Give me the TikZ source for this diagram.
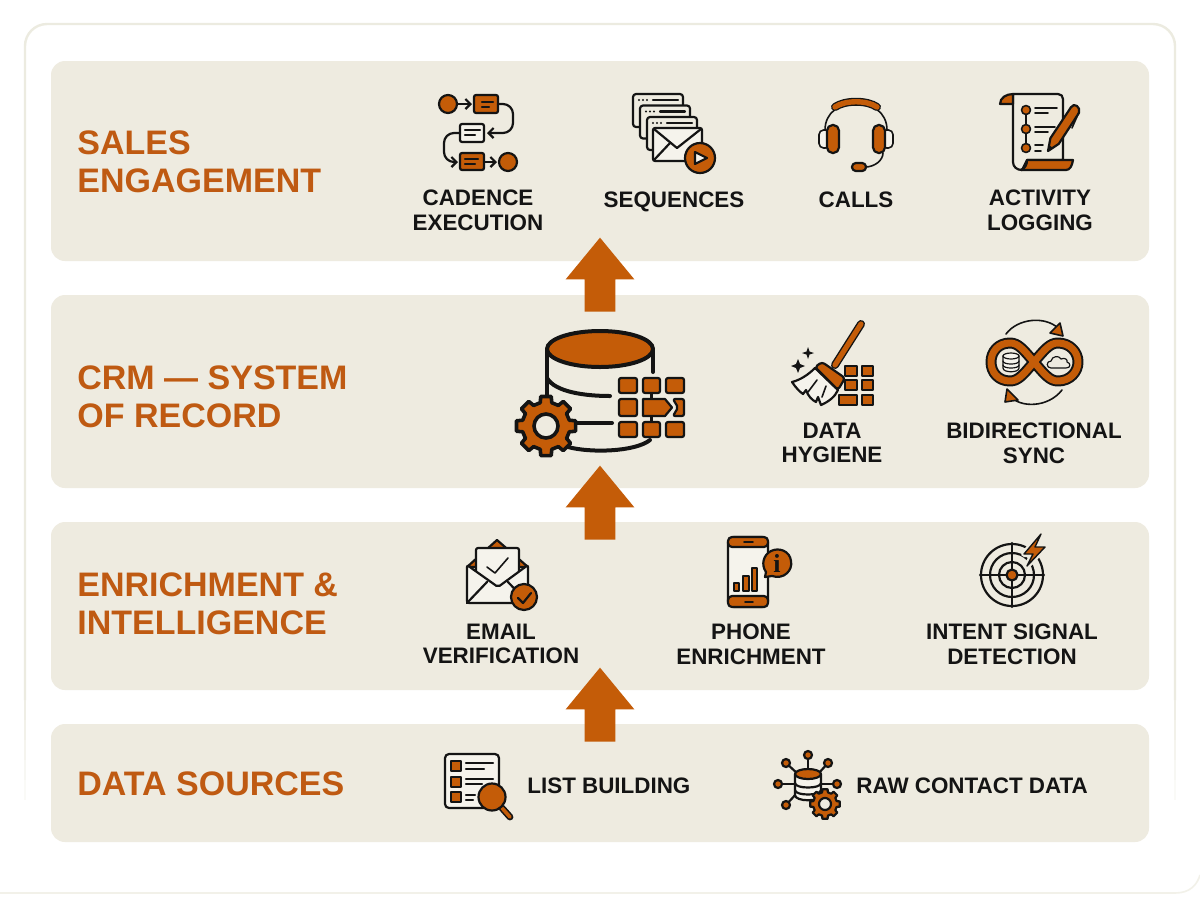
\documentclass[tikz,border=0pt]{standalone}
\usepackage{fontspec}
\setmainfont{Liberation Sans}
\newfontfamily\glyphfont{Liberation Serif}
\usetikzlibrary{arrows.meta,shapes.arrows}
\definecolor{brand}{HTML}{C45C08}
\definecolor{titleink}{HTML}{BF5A12}
\definecolor{ink}{HTML}{141414}
\definecolor{panelfill}{HTML}{EEEBE0}
\definecolor{paperfill}{HTML}{F5F3EC}
\definecolor{framecol}{HTML}{ECEBE0}
\tikzset{
  panelbox/.style={fill=panelfill,rounded corners=7pt,inner sep=0pt,minimum width=549pt},
  bigarrow/.style={single arrow,fill=brand,inner sep=0pt,rotate=90,minimum height=37pt,minimum width=34pt,
    text height=15pt,text depth=0pt,single arrow head extend=9.5pt,single arrow tip angle=79},
  titlelabel/.style={font=\fontsize{17}{19}\selectfont\bfseries,text=titleink,align=left,anchor=west,inner sep=0pt},
  iconlabel/.style={font=\fontsize{11.2}{12.3}\selectfont\bfseries,text=ink,align=center,inner sep=0pt},
  iconline/.style={draw=ink,line width=1.1pt,line join=round,line cap=round},
  thinline/.style={draw=ink,line width=0.8pt,line join=round,line cap=round},
  gearline/.style={iconline},
  gearicon/.pic={
    \draw[gearline,fill=brand] (-14:24) \foreach \a in {0,45,...,315}{ -- (\a-14:24) -- (\a-10:30) -- (\a+10:30) -- (\a+14:24)} -- cycle;
    \draw[gearline,fill=panelfill] (0,0) circle (12);
  },
  >={Straight Barb[length=2.5pt,width=5pt]}
}
\begin{document}
\begin{tikzpicture}[x=0.5pt,y=-0.5pt]
  \useasboundingbox (0,0) rectangle (1200,896);
  \fill[white] (0,0) rectangle (1200,896);
  \draw[framecol,line width=1.2pt,rounded corners=11pt] (25,700) -- (25,24) -- (1175,24) -- (1175,700);
  \foreach \ya/\yb/\fade in {700/720/85,720/740/70,740/760/55,760/780/40,780/800/25}{
    \draw[framecol!\fade!white,line width=1.2pt] (25,\ya) -- (25,\yb) (1175,\ya) -- (1175,\yb);
  }
  \draw[framecol!70!white,line width=0.8pt] (0,893) -- (1175,893) .. controls (1190,893) and (1197,885) .. (1200,875);

  \node[panelbox,minimum height=100pt] (engagepanel) at (600,161) {};
  \node[panelbox,minimum height=96.5pt] (crmpanel) at (600,391.5) {};
  \node[panelbox,minimum height=84pt] (enrichpanel) at (600,606) {};
  \node[panelbox,minimum height=59pt] (sourcepanel) at (600,783) {};

  \node[bigarrow] (crmarrow) at (600,284) {};
  \node[bigarrow] (enricharrow) at (600,512) {};
  \node[bigarrow] (sourcearrow) at (600,714) {};

  \node[titlelabel] (engagetitle) at (77,162) {SALES\\ENGAGEMENT};
  \node[titlelabel] (crmtitle) at (77,397) {CRM — SYSTEM\\OF RECORD};
  \node[titlelabel] (enrichtitle) at (77,604) {ENRICHMENT \&\\INTELLIGENCE};
  \node[titlelabel] (sourcetitle) at (77,784) {DATA SOURCES};

  \node[iconlabel] (cadencelabel) at (478,210) {CADENCE\\EXECUTION};
  \node[iconlabel] (sequencelabel) at (674,201.5) {SEQUENCES};
  \node[iconlabel] (callslabel) at (856,200) {CALLS};
  \node[iconlabel] (activitylabel) at (1040,210) {ACTIVITY\\LOGGING};
  \node[iconlabel] (hygienelabel) at (832,443) {DATA\\HYGIENE};
  \node[iconlabel] (synclabel) at (1034,443) {BIDIRECTIONAL\\SYNC};
  \node[iconlabel] (emaillabel) at (501,644) {EMAIL\\VERIFICATION};
  \node[iconlabel] (phonelabel) at (751,644) {PHONE\\ENRICHMENT};
  \node[iconlabel] (intentlabel) at (1012,644) {INTENT SIGNAL\\DETECTION};
  \node[iconlabel,anchor=west] (listlabel) at (527,786) {LIST BUILDING};
  \node[iconlabel,anchor=west] (rawlabel) at (856,786) {RAW CONTACT DATA};

  \draw[iconline,fill=brand] (448,104) circle (9);
  \draw[iconline,->] (458,104) -- (472,104);
  \draw[iconline,fill=brand,rounded corners=1pt] (474,95) rectangle (498,113);
  \draw[iconline] (482,102) -- (493,102) (482,107) -- (489,107);
  \draw[iconline,->,rounded corners=5pt] (498,104) -- (513,104) -- (513,133) -- (487,133);
  \draw[iconline,fill=paperfill,rounded corners=1pt] (460,124) rectangle (484,142);
  \draw[iconline] (465,130) -- (480,130) (465,135) -- (475,135);
  \draw[iconline,->,rounded corners=5pt] (460,133) -- (444,133) -- (444,162) -- (458,162);
  \draw[iconline,fill=brand,rounded corners=1pt] (460,153) rectangle (484,170);
  \draw[iconline] (465,159) -- (478,159) (465,164) -- (475,164);
  \draw[iconline,->] (484,162) -- (497,162);
  \draw[iconline,fill=brand] (508,162) circle (9);

  \foreach \dx/\dy in {0/0,7/11.5,14/23}{
    \draw[iconline,fill=panelfill,rounded corners=1.5pt] (633+\dx,94+\dy) rectangle (683+\dx,127+\dy);
    \draw[iconline] (653+\dx,100+\dy) -- (678+\dx,100+\dy);
    \fill[ink] (639+\dx,100+\dy) circle (1.2) (643+\dx,100+\dy) circle (1.2) (647+\dx,100+\dy) circle (1.2);
  }
  \draw[iconline,fill=paperfill,rounded corners=1pt] (653,128) rectangle (702,161);
  \draw[iconline] (654,129) -- (677,148) -- (701,129) (654,160) -- (670,143);
  \draw[iconline,fill=brand] (700,158) circle (15);
  \draw[iconline,fill=paperfill] (695,152) -- (695,164) -- (707,158) -- cycle;

  \draw[thinline] (825,130) .. controls (825,94) and (887,94) .. (887,130);
  \draw[ink,line width=4pt,line cap=round] (835,107) .. controls (845,100) and (867,100) .. (877,107);
  \draw[brand,line width=2.7pt,line cap=round] (835,107) .. controls (845,100) and (867,100) .. (877,107);
  \draw[thinline,fill=paperfill,rounded corners=2.3pt] (819,130) rectangle (830,148);
  \draw[thinline,fill=paperfill,rounded corners=2.3pt] (882,130) rectangle (893,148);
  \draw[iconline,fill=brand,rounded corners=2.8pt] (827,125) rectangle (839,153);
  \draw[iconline,fill=brand,rounded corners=2.8pt] (873,125) rectangle (885,153);
  \draw[thinline] (883,153) .. controls (883,160) and (875,167) .. (865,167);
  \draw[iconline,fill=brand,rounded corners=1.9pt] (852,163) rectangle (866,171);

  \draw[iconline,fill=panelfill] (1013,94) -- (1058,94) .. controls (1061,94) and (1063,96) .. (1063,99) -- (1063,160) -- (1027,160) -- (1022,170) .. controls (1017,170) and (1013,167) .. (1013,162) -- cycle;
  \draw[iconline,fill=brand] (1013,94) .. controls (1006,94) and (1000,98) .. (1000,104) -- (1013,104) -- cycle;
  \draw[iconline,fill=brand] (1027,160) -- (1073,160) .. controls (1072,166) and (1070,170) .. (1066,170) -- (1021,170) .. controls (1025,168) and (1027,165) .. (1027,160) -- cycle;
  \draw[thinline] (1026,110) -- (1026,148);
  \foreach \yy in {110,129,148}{
    \draw[thinline,fill=brand] (1026,\yy) circle (4.5);
  }
  \draw[thinline] (1035,108) -- (1057,108) (1035,113) -- (1048,113) (1035,127) -- (1055,127) (1035,132) -- (1048,132) (1035,145) -- (1043,145) (1035,151) -- (1041,151);
  \draw[iconline,fill=brand] (1048,151) -- (1050.4,138.2) -- (1071,107.2) .. controls (1074,102) and (1081,107) .. (1079,112.8) -- (1058.8,143.8) -- cycle;
  \fill[ink] (1048,151) -- (1049,145) -- (1053,148) -- cycle;
  \draw[thinline] (1079,112) -- (1072,128);

  \draw[iconline,line width=2pt] (547,349) -- (547,400) (653,349) -- (653,372);
  \draw[iconline,line width=2pt,fill=brand] (600,349) circle [x radius=53,y radius=18];
  \draw[iconline,line width=2pt] (547,378) .. controls (555,392) and (585,396) .. (610,396);
  \draw[iconline,line width=2pt] (575,423) -- (612,423);
  \draw[iconline,line width=2pt] (568,447) .. controls (590,453) and (635,452) .. (650,440);
  \pic[gearline/.style={iconline,line width=1.8pt}] at (546,426) {gearicon};
  \draw[iconline] (651.5,393) -- (651.5,399) (651.5,416) -- (651.5,422);
  \foreach \xa/\xb in {619/637,643/660,666/684}{
    \foreach \ya/\yb in {378/393,422/437}{
      \draw[iconline,fill=brand,rounded corners=1pt] (\xa,\ya) rectangle (\xb,\yb);
    }
  }
  \draw[iconline,fill=brand,rounded corners=1pt] (619,399) rectangle (637,416);
  \draw[iconline,fill=brand,rounded corners=1pt] (673,399) -- (684,399) -- (684,416) -- (673,416) -- (678,407.5) -- cycle;
  \draw[iconline,fill=brand] (643,399) -- (665,399) -- (672,407.5) -- (665,416) -- (643,416) -- cycle;

  \foreach \xa/\xb/\ya/\yb in {845/857/366/376,862/873/366/376,845/857/380/390,862/873/380/390,839/857/395/405,862/873/395/405}{
    \draw[thinline,fill=brand] (\xa,\ya) rectangle (\xb,\yb);
  }
  \draw[ink,line width=4pt,line cap=round] (861,324) -- (835,365);
  \draw[brand,line width=2.6pt,line cap=round] (861,324) -- (835,365);
  \draw[panelfill,line width=3pt,line join=round,fill=panelfill] (815,368) -- (792,382) -- (820,405) -- (838,390) -- cycle;
  \draw[iconline,fill=paperfill] (815,368) .. controls (808,375) and (800,380) .. (792,382) .. controls (796,388) and (800,392) .. (803,394) -- (806,390) .. controls (808,396) and (812,400) .. (816,402) -- (818,397) -- (821,405) .. controls (828,402) and (835,397) .. (838,390) -- cycle;
  \draw[thinline] (817,380) -- (808,392) (826,386) -- (822,397);
  \draw[iconline,fill=brand,rounded corners=1.5pt] (815,367) -- (822,362) -- (845,378) -- (838,390) -- cycle;
  \fill[ink] (798,359) -- (800,364) -- (805,366) -- (800,368) -- (798,373) -- (796,368) -- (791,366) -- (796,364) -- cycle;
  \fill[ink] (808,347) -- (809.5,351.5) -- (814,353) -- (809.5,354.5) -- (808,359) -- (806.5,354.5) -- (802,353) -- (806.5,351.5) -- cycle;

  \draw[ink,line width=5.5pt,line join=round] (1034,362) .. controls (1045,349) and (1050,343) .. (1058,343) .. controls (1070,343) and (1078,352) .. (1078,362) .. controls (1078,372) and (1070,381) .. (1058,381) .. controls (1050,381) and (1045,375) .. (1034,362) .. controls (1023,349) and (1018,343) .. (1010,343) .. controls (998,343) and (991,352) .. (991,362) .. controls (991,372) and (998,381) .. (1010,381) .. controls (1018,381) and (1023,375) .. (1034,362) -- cycle;
  \draw[brand,line width=3.5pt,line join=round] (1034,362) .. controls (1045,349) and (1050,343) .. (1058,343) .. controls (1070,343) and (1078,352) .. (1078,362) .. controls (1078,372) and (1070,381) .. (1058,381) .. controls (1050,381) and (1045,375) .. (1034,362) .. controls (1023,349) and (1018,343) .. (1010,343) .. controls (998,343) and (991,352) .. (991,362) .. controls (991,372) and (998,381) .. (1010,381) .. controls (1018,381) and (1023,375) .. (1034,362) -- cycle;
  \draw[thinline,line width=0.6pt,fill=paperfill] (1003,356) -- (1003,368) .. controls (1003,373) and (1019,373) .. (1019,368) -- (1019,356) -- cycle;
  \draw[thinline,line width=0.6pt,fill=paperfill] (1011,356) circle [x radius=8,y radius=3];
  \draw[thinline,line width=0.6pt] (1003,361) .. controls (1003,365) and (1019,365) .. (1019,361) (1003,365) .. controls (1003,369) and (1019,369) .. (1019,365);
  \draw[thinline,line width=0.6pt] (1051,368) .. controls (1046,368) and (1046,361) .. (1051,361) .. controls (1052,356) and (1059,355) .. (1061,359) .. controls (1065,357) and (1068,360) .. (1067,362) .. controls (1071,363) and (1071,368) .. (1066,368) -- cycle;
  \draw[thinline] (1006,334) .. controls (1018,318) and (1045,316) .. (1058,328);
  \draw[thinline,fill=brand] (1060,323) -- (1063,336) -- (1050,333) -- cycle;
  \draw[thinline] (1062,390) .. controls (1048,408) and (1020,408) .. (1010,396);
  \draw[thinline,fill=brand] (1007,389) -- (1005,402) -- (1018,400) -- cycle;

  \draw[iconline,fill=brand] (467,567) -- (497,540) -- (528,567) -- cycle;
  \draw[iconline,fill=paperfill,rounded corners=1pt] (476,548) -- (519,548) -- (519,590) -- (476,590) -- cycle;
  \draw[iconline,fill=paperfill,rounded corners=1pt] (467,565) -- (498,587) -- (528,565) -- (528,603) -- (467,603) -- cycle;
  \draw[iconline] (467,603) -- (487,582) (528,603) -- (508,582);
  \draw[thinline] (487,567) -- (495,573) -- (508,558);
  \draw[iconline,fill=brand] (524,597) circle (13);
  \draw[iconline] (518,598) -- (523,603) -- (531,593);

  \draw[iconline,fill=paperfill,rounded corners=3pt] (728,537) rectangle (768,607);
  \draw[iconline,fill=brand,rounded corners=2pt] (728,537) -- (768,537) -- (768,547) -- (728,547) -- cycle;
  \draw[iconline,fill=brand,rounded corners=2pt] (728,596) -- (768,596) -- (768,607) -- (728,607) -- cycle;
  \draw[thinline] (744,542) -- (753,542) (745,602) -- (753,602);
  \draw[thinline,fill=brand] (734,583) rectangle (739,591);
  \draw[thinline,fill=brand] (743,576) rectangle (749,591);
  \draw[thinline,fill=brand] (752,568) rectangle (757,591);
  \draw[iconline,fill=brand] (766,572) -- (765,577) -- (772,576) .. controls (784,580) and (793,570) .. (791,561) .. controls (790,551) and (779,547) .. (771,551) .. controls (763,555) and (761,565) .. (766,572) -- cycle;
  \node[font=\fontsize{13}{13}\selectfont\glyphfont\bfseries,text=ink,inner sep=0pt] (infomark) at (777,563) {i};

  \foreach \rr in {31,22,13}{
    \draw[iconline] (1012,575) circle (\rr);
  }
  \draw[iconline] (1012,543) -- (1012,607) (980,575) -- (1044,575);
  \draw[iconline,fill=brand] (1012,575) circle (5.5);
  \draw[panelfill,line width=3pt,line join=round,fill=panelfill] (1041,534) -- (1024,554) -- (1033,554) -- (1027,566) -- (1045,547) -- (1035,547) -- cycle;
  \draw[thinline,fill=brand,line width=0.7pt] (1041,534) -- (1024,554) -- (1033,554) -- (1027,566) -- (1045,547) -- (1035,547) -- cycle;

  \draw[iconline,fill=paperfill,rounded corners=2pt] (445,754) rectangle (499,808);
  \foreach \ya/\yb in {761/771,777/787,792/802}{
    \draw[iconline,fill=brand] (451,\ya) rectangle (461,\yb);
  }
  \draw[iconline] (466,763) -- (493,763) (466,769) -- (484,769) (466,779) -- (493,779) (466,784) -- (482,784) (466,795) -- (475,795) (466,800) -- (473,800);
  \draw[ink,line width=3.4pt,line cap=round] (502,808) -- (510,817);
  \draw[brand,line width=1.8pt,line cap=round] (502,808) -- (510,817);
  \draw[iconline,fill=brand] (492,797) circle (13.5);

  \foreach \sx/\sy/\ex/\ey in {808/755/808/770,786/763/798/774,828/763/818/774,778/784/795/784,837/784/821/784,786/805/797/793}{
    \draw[iconline] (\sx,\sy) -- (\ex,\ey);
    \draw[iconline,fill=brand] (\sx,\sy) circle (4);
  }
  \draw[iconline,fill=paperfill] (795,774) -- (795,795) .. controls (795,802) and (821,802) .. (821,795) -- (821,774) -- cycle;
  \draw[iconline] (795,783) .. controls (795,789) and (821,789) .. (821,783) (795,790) .. controls (795,796) and (821,796) .. (821,790);
  \draw[iconline,fill=brand] (808,774) circle [x radius=13,y radius=5];
  \pic[scale=0.5] at (825,804) {gearicon};
\end{tikzpicture}
\end{document}
